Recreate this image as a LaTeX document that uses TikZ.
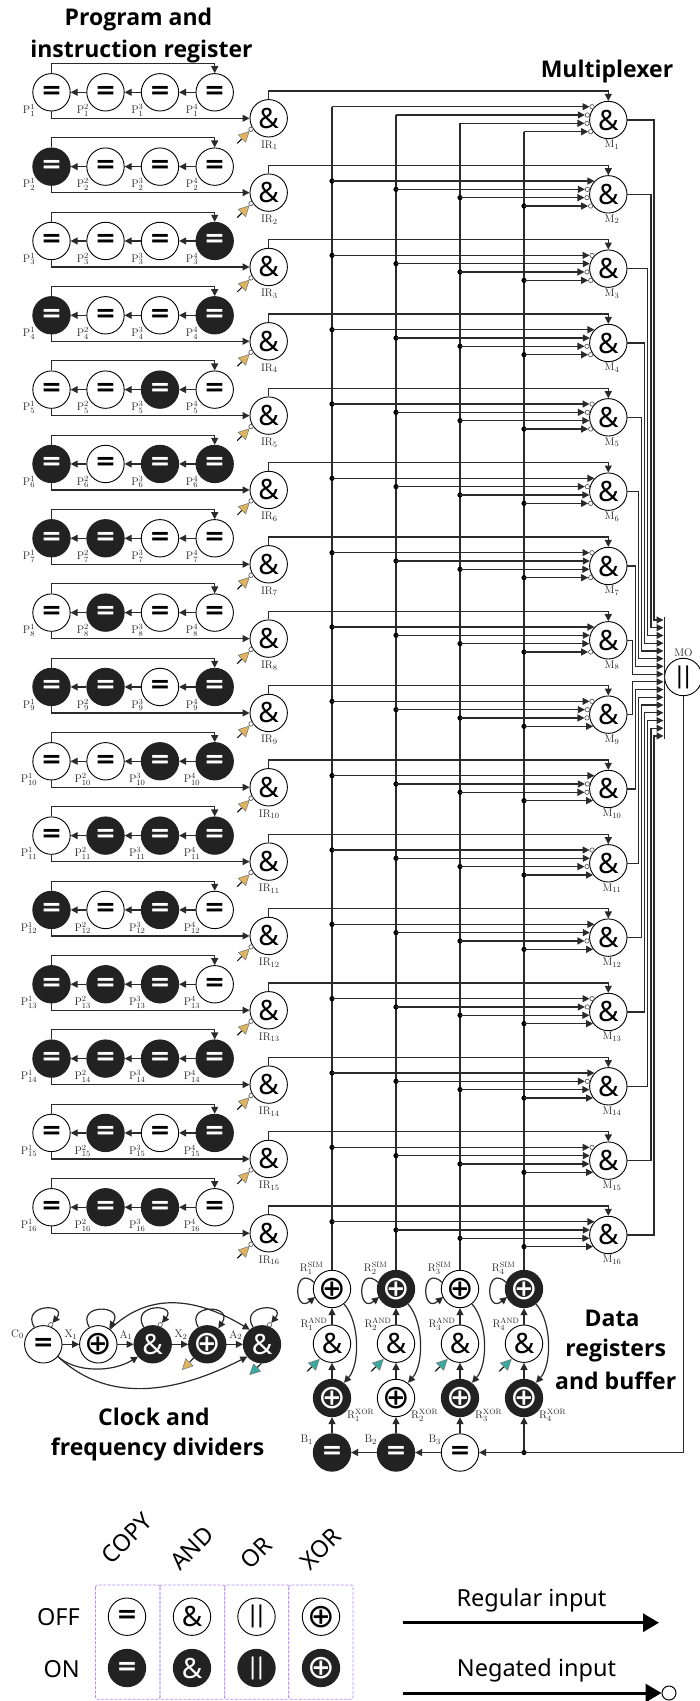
\documentclass[tikz,border=0pt]{standalone}
\usepackage{fontspec}
\usetikzlibrary{arrows.meta,calc}
\newfontfamily\djsym{DejaVu Sans}
\newfontfamily\titlefont{Open Sans}
\newfontfamily\legendfont{Noto Sans}
\newfontfamily\ampfont{Noto Sans}
\definecolor{gatedark}{HTML}{222222}
\definecolor{wirecol}{HTML}{2A2A2A}
\definecolor{goldc}{HTML}{DFB45E}
\definecolor{tealc}{HTML}{39A89E}
\definecolor{boxc}{HTML}{B48CFF}
\newcommand\symeq{{\djsym\bfseries\fontsize{25}{25}\selectfont =}}
\newcommand\symand{{\ampfont\fontsize{28}{28}\selectfont\&}}
\newcommand\symor{{\djsym\fontsize{23}{23}\selectfont ||}}
\newcommand\symxor{{\djsym\fontsize{33}{33}\selectfont ⊕}}
\tikzset{
  x=1pt,y=-1pt,
  >={Triangle[length=7pt,width=7pt]},
  gate0/.style={circle,draw=black,line width=.9pt,fill=white,text=black,minimum size=37.4pt,inner sep=0pt},
  gate1/.style={gate0,fill=gatedark,draw=gatedark,text=white},
  wire/.style={draw=wirecol,line width=1.2pt},
  arr/.style={wire,->},
  lbl/.style={inner sep=0pt,text=black!85,font=\fontsize{11}{12}\selectfont},
  notc/.style={circle,draw=black!70,fill=white,line width=.6pt,minimum size=4.4pt,inner sep=0pt},
  jdot/.style={circle,fill=black,minimum size=5.2pt,inner sep=0pt},
  goldarr/.style={draw=black,line width=1pt,-{Triangle[length=11pt,width=11pt,line width=.5pt,color=black!55,fill=goldc]}},
  tealarr/.style={draw=black,line width=1pt,-{Triangle[length=11pt,width=11pt,line width=.5pt,color=black!55,fill=tealc]}},
  ttl/.style={inner sep=0pt,text=black,font=\titlefont\bfseries\fontsize{23}{26}\selectfont},
  legt/.style={inner sep=0pt,text=black,font=\legendfont\fontsize{23.5}{25}\selectfont},
  lbox/.style={draw=boxc,dashed,line width=.7pt,rounded corners=2pt,dash pattern=on 3pt off 1.5pt},
  bigarr/.style={draw=black,line width=3pt,-{Triangle[length=16pt,width=18pt]}},
}
\begin{document}
\begin{tikzpicture}
\useasboundingbox (0,0) rectangle (700,1701);
% titles
\node[ttl] (t1) at (138.5,20) {Program and};
\node[ttl] (t2) at (141.5,52) {instruction register};
\node[ttl] (t3) at (607,72) {Multiplexer};
\node[ttl] (t4) at (154,1417) {Clock and};
\node[ttl] (t5) at (157.7,1449) {frequency dividers};
\node[ttl] (t6) at (612,1318) {Data};
\node[ttl] (t7) at (615.7,1350.5) {registers};
\node[ttl] (t8) at (615.7,1381) {and buffer};
% program rows
\foreach \i/\a/\b/\c/\d in {1/0/0/0/0,2/1/0/0/0,3/0/0/0/1,4/1/0/0/1,5/0/0/1/0,6/1/0/1/1,7/1/1/0/0,8/0/1/0/0,9/1/1/0/1,10/0/0/1/1,11/0/1/1/1,12/1/0/1/0,13/1/1/1/0,14/1/1/1/1,15/0/1/0/1,16/0/1/1/0}{
  \pgfmathsetmacro\py{92.3+74.33*(\i-1)}
  \pgfmathsetmacro\iy{118.3+74.33*(\i-1)}
  \pgfmathsetmacro\my{120+74.33*(\i-1)}
  \node[gate\a] (P\i-1) at (51.5,\py) {\symeq};
  \node[gate\b] (P\i-2) at (105.5,\py) {\symeq};
  \node[gate\c] (P\i-3) at (160,\py) {\symeq};
  \node[gate\d] (P\i-4) at (214.7,\py) {\symeq};
  \node[lbl] (Pl\i-1) at (29,\py+18) {$\mathrm{P}_{\i}^{1}$};
  \node[lbl] (Pl\i-2) at (82.8,\py+18) {$\mathrm{P}_{\i}^{2}$};
  \node[lbl] (Pl\i-3) at (137.3,\py+18) {$\mathrm{P}_{\i}^{3}$};
  \node[lbl] (Pl\i-4) at (192,\py+18) {$\mathrm{P}_{\i}^{4}$};
  \node[gate0] (IR\i) at (268.7,\iy) {\symand};
  \node[lbl] (IRl\i) at (269.3,\iy+27) {$\mathrm{IR}_{\i}$};
  \node[gate0] (M\i) at (608.3,\my) {\symand};
  \node[lbl] (Ml\i) at (612,\my+25) {$\mathrm{M}_{\i}$};
  % program wires
  \draw[arr] (P\i-4) -- (P\i-3);
  \draw[arr] (P\i-3) -- (P\i-2);
  \draw[arr] (P\i-2) -- (P\i-1);
  \draw[arr] (P\i-1.north) -- ++(0,-9.6) -| (P\i-4.north);
  \draw[arr] (P\i-1.south) |- (IR\i.west);
  \draw[arr] (IR\i.north) -- ++(0,-8.1) -| (M\i.north);
  % clock input to IR, negated
  \node[notc] (In\i) at (251,\iy+11) {};
  \coordinate (It\i) at (237.3,\iy+25);
  \coordinate (Ih\i) at (249.6,\iy+12.7);
  \draw[goldarr] (It\i) -- (Ih\i);
}
% data registers
\foreach \k/\x/\s/\r in {1/332/0/1,2/396/1/0,3/460/0/1,4/524/1/1}{
  \node[gate\s] (S\k) at (\x,1289) {\symxor};
  \node[gate0] (A\k) at (\x,1343.7) {\symand};
  \node[gate\r] (X\k) at (\x,1398) {\symxor};
  \node[lbl] (Sl\k) at (\x-20.3,1268) {$\mathrm{R}_{\k}^{\mathrm{SIM}}$};
  \node[lbl] (Al\k) at (\x-18,1324) {$\mathrm{R}_{\k}^{\mathrm{AND}}$};
  \node[lbl] (Xl\k) at (\x+28.7,1415) {$\mathrm{R}_{\k}^{\mathrm{XOR}}$};
  \draw[arr] (X\k) -- (A\k);
  \draw[arr] (A\k) -- (S\k);
  \coordinate (Sa\k) at ($(S\k)+(12,15)$);
  \coordinate (Xa\k) at ($(X\k)+(12,-15.3)$);
  \draw[arr] (Sa\k) .. controls +(16,18) and +(16,-18) .. (Xa\k);
  \coordinate (Sb\k) at ($(S\k)+(-17.6,-6.4)$);
  \coordinate (Sc\k) at ($(S\k)+(-17,8)$);
  \draw[arr] (Sb\k) .. controls +(-21.4,-20) and +(-22,18) .. (Sc\k);
  \coordinate (Tt\k) at (\x-24.7,1371.3);
  \coordinate (Th\k) at (\x-12.3,1359);
  \draw[tealarr] (Tt\k) -- (Th\k);
}
% multiplexer inputs
\foreach \i in {1,...,16}{
  \foreach \k/\x/\dy in {1/332/-13.3,2/396/-5,3/460/3.3,4/524/11.7}{
    \pgfmathsetmacro\my{120+74.33*(\i-1)}
    \pgfmathsetmacro\yy{\my+\dy}
    \pgfmathsetmacro\bx{608.3-sqrt(19.2*19.2-\dy*\dy)}
    \pgfmathtruncatemacro\bit{mod(floor((\i-1)/(2^(\k-1))),2)}
    \ifnum\i=1
      \coordinate (J\i-\k) at (\x,\yy);
      \draw[wire] (S\k.north) -- (J\i-\k);
    \else
      \node[jdot] (J\i-\k) at (\x,\yy) {};
    \fi
    \ifnum\bit=1
      \coordinate (Min\i-\k) at (\bx,\yy);
      \draw[arr] (J\i-\k.center) -- (Min\i-\k);
    \else
      \node[notc] (Nc\i-\k) at (\bx-2.4,\yy) {};
      \draw[arr] (J\i-\k.center) -- (Nc\i-\k.west);
    \fi
  }
}
% output gate
\node[gate0] (MO) at (683.3,677) {\symor};
\node[lbl] (MOl) at (683.5,653) {$\mathrm{MO}$};
\coordinate (Stt) at (664.7,616.7);
\coordinate (Stb) at (664.7,739);
\draw[wire] (Stt) -- (Stb);
\foreach \i in {1,...,16}{
  \pgfmathsetmacro\ay{620+7.73*(\i-1)}
  \pgfmathsetmacro\vx{\i<9 ? 654-3.1*(\i-1) : 632.3+3.1*(\i-9)}
  \coordinate (Bd\i) at (\vx,\ay);
  \coordinate (Ou\i) at (663.5,\ay);
  \draw[arr] (M\i.east) -| (Bd\i) -- (Ou\i);
}
% buffer
\node[gate1] (B1) at (332,1452.5) {\symeq};
\node[gate1] (B2) at (396,1452.5) {\symeq};
\node[gate0] (B3) at (460,1452.5) {\symeq};
\node[lbl] (Bl1) at (306.7,1440) {$\mathrm{B}_{1}$};
\node[lbl] (Bl2) at (370.7,1440) {$\mathrm{B}_{2}$};
\node[lbl] (Bl3) at (434.7,1440) {$\mathrm{B}_{3}$};
\node[jdot] (Bj) at (524,1452.5) {};
\draw[arr] (MO.south) |- (B3.east);
\draw[arr] (Bj) -- (X4.south);
\draw[arr] (B3) -- (B2);
\draw[arr] (B2) -- (B1);
\draw[arr] (B1) -- (X1);
\draw[arr] (B2) -- (X2);
\draw[arr] (B3) -- (X3);
% clock
\node[gate0] (C0) at (43.3,1344.3) {\symeq};
\node[gate0] (CX1) at (98.3,1344.3) {\symxor};
\node[gate1] (CA1) at (152.7,1344.3) {\symand};
\node[gate1] (CX2) at (207.3,1344.3) {\symxor};
\node[gate1] (CA2) at (262,1344.3) {\symand};
\node[lbl] (C0l) at (17.5,1334) {$\mathrm{C}_{0}$};
\node[lbl] (CX1l) at (71,1335) {$\mathrm{X}_{1}$};
\node[lbl] (CA1l) at (126,1335) {$\mathrm{A}_{1}$};
\node[lbl] (CX2l) at (181,1335) {$\mathrm{X}_{2}$};
\node[lbl] (CA2l) at (235.7,1335) {$\mathrm{A}_{2}$};
\draw[arr] (C0) -- (CX1);
\draw[arr] (CX1) -- (CA1);
\draw[arr] (CA1) -- (CX2);
\draw[arr] (CX2) -- (CA2);
% self loops
\foreach \n/\nn in {CX1/a,CX2/b}{
  \coordinate (\nn s) at ($(\n)+(-9,-17)$);
  \coordinate (\nn e) at ($(\n)+(11,-16)$);
  \draw[arr] (\nn s) .. controls +(-14,-24) and +(16,-24) .. (\nn e);
}
\foreach \n/\nn in {C0/c,CA1/d,CA2/f}{
  \coordinate (\nn s) at ($(\n)+(-9,-17)$);
  \node[notc] (\nn n) at ($(\n)+(7.5,-19.6)$) {};
  \draw[arr] (\nn s) .. controls +(-14,-24) and +(16,-20) .. (\nn n.north east);
}
\draw[arr] (C0.-40) .. controls +(18,16) and +(-26,16) .. (CA1.-140);
\draw[arr] (C0.-40) .. controls +(40,38) and +(-90,46) .. (CA2.-140);
\draw[arr] (CX1.52) .. controls +(36,-35) and +(-58,-35) .. (CA2.130);
\coordinate (Gt) at (182,1370);
\draw[goldarr] (CX2.-135) -- (Gt);
\coordinate (Ta) at (249.3,1375);
\draw[tealarr] (CA2.-92) -- (Ta);
% legend
\draw[lbox] (95.5,1585) rectangle (160,1699.3);
\draw[lbox] (160,1585) rectangle (224.7,1699.3);
\draw[lbox] (224.7,1585) rectangle (288.8,1699.3);
\draw[lbox] (288.8,1585) rectangle (353,1699.3);
\node[gate0] (L1) at (127,1616.7) {\symeq};
\node[gate0] (L2) at (192,1616.7) {\symand};
\node[gate0] (L3) at (256.5,1616.7) {\symor};
\node[gate0] (L4) at (321,1616.7) {\symxor};
\node[gate1] (L5) at (127,1668) {\symeq};
\node[gate1] (L6) at (192,1668) {\symand};
\node[gate1] (L7) at (256.5,1668) {\symor};
\node[gate1] (L8) at (321,1668) {\symxor};
\node[legt,anchor=east] (Loff) at (80,1617) {OFF};
\node[legt,anchor=east] (Lon) at (80,1669) {ON};
\node[legt,rotate=45] (Lc) at (127,1538) {COPY};
\node[legt,rotate=45] (La) at (192,1548) {AND};
\node[legt,rotate=45] (Lo) at (256.5,1553) {OR};
\node[legt,rotate=45] (Lx) at (321,1549) {XOR};
\node[legt] (Lr) at (531.5,1600) {Regular input};
\node[legt] (Ln) at (536.5,1670) {Negated input};
\coordinate (La1) at (402.5,1622.7);
\coordinate (La2) at (659,1622.7);
\draw[bigarr] (La1) -- (La2);
\coordinate (Lb1) at (402.5,1693);
\node[circle,draw=black,line width=1pt,fill=white,minimum size=14pt,inner sep=0pt] (Lbc) at (669,1693) {};
\draw[bigarr] (Lb1) -- (Lbc.west);
\end{tikzpicture}
\end{document}
